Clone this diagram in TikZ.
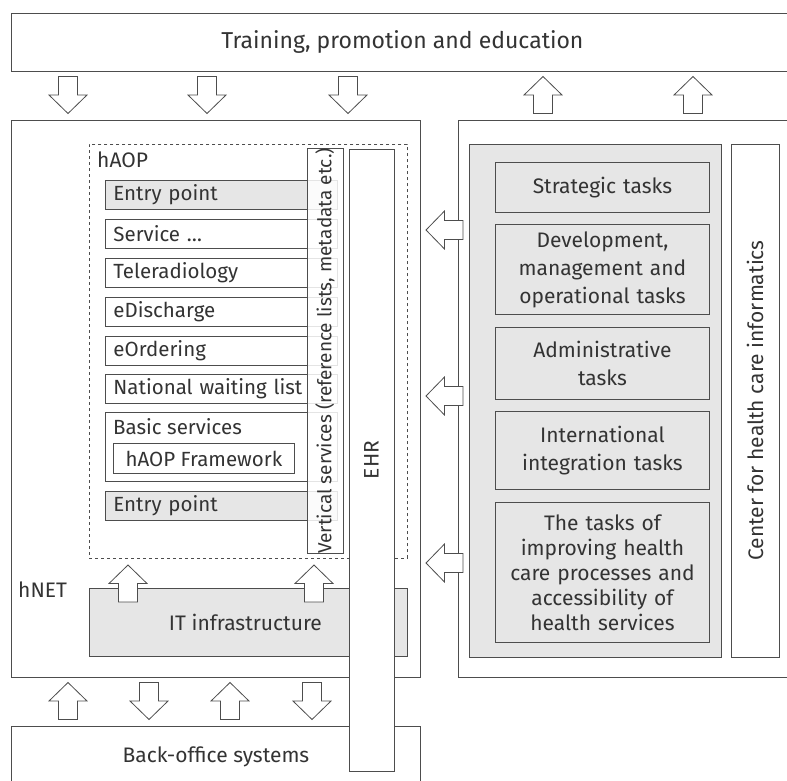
\documentclass[tikz,border=0pt]{standalone}
\usepackage{fontspec}
\setmainfont{Fira Sans}
\usetikzlibrary{positioning}

\definecolor{linec}{HTML}{4D4D4D}
\definecolor{txt}{HTML}{333333}
\definecolor{grayf}{HTML}{E6E6E6}

\newcommand\titlefont{\fontsize{23}{27}\selectfont}
\newcommand\itemfont{\fontsize{20.5}{25}\selectfont}
\newcommand\lblfont{\fontsize{21}{25}\selectfont}
\newcommand\vertfont{\fontsize{19}{22}\selectfont}

% block arrow: x, y, direction
\newcommand\blockarr[3]{%
  \draw[barr,shift={(#1,#2)},rotate=#3] (-18.5,-9.5) -- (0,-9.5) -- (0,-19) -- (18.5,0)
    -- (0,19) -- (0,9.5) -- (-18.5,9.5) -- cycle;}

\tikzset{
  frame/.style={draw=linec, line width=0.9pt, anchor=north west, inner sep=0pt, text=txt},
  item/.style={frame, fill=white, minimum width=232, minimum height=29, text width=216,
    inner xsep=8, align=left, font=\itemfont},
  task/.style={frame, fill=grayf, minimum width=214, text width=208, inner xsep=3,
    align=center, font=\lblfont},
  barr/.style={draw=linec, line width=0.8pt, fill=white},
  lbl/.style={anchor=west, inner sep=0pt, text=txt, font=\lblfont}
}

\begin{document}
\begin{tikzpicture}[x=1pt,y=-1pt]
\path[clip] (0,0) rectangle (787,780);

% top
\node[frame, minimum width=790, minimum height=58, font=\titlefont] (train) at (11,13)
  {\hspace*{-8pt}Training, promotion and education};
\blockarr{68}{95}{-90}
\blockarr{207}{95}{-90}
\blockarr{348}{95}{-90}
\blockarr{543}{95}{90}
\blockarr{693}{95}{90}

% big frames
\node[frame, minimum width=409, minimum height=557] (hnet) at (11,120) {};
\node[frame, minimum width=340, minimum height=557] (cent) at (458,120) {};
\node[frame, minimum width=409, minimum height=60, font=\lblfont] (back) at (11,726) {Back-office systems};
\blockarr{68}{701}{90}
\blockarr{149}{701}{-90}
\blockarr{230}{701}{90}
\blockarr{312}{701}{-90}

% hAOP
\node[frame, dashed, minimum width=318, minimum height=414] (haop) at (89,144) {};
\node[lbl] (haoplbl) at (97,160) {hAOP};
\node[item, fill=grayf] (entryA) at (105,180) {Entry point};
\node[item] (serv) at (105,219) {Service \dots};
\node[item] (telerad) at (105,258) {Teleradiology};
\node[item] (edisch) at (105,297) {eDischarge};
\node[item] (eorder) at (105,336) {eOrdering};
\node[item] (waitl) at (105,374) {National waiting list};
\node[frame, fill=white, minimum width=232, minimum height=69] (basic) at (105,412) {};
\node[lbl, font=\itemfont] (basiclbl) at (113,427) {Basic services};
\node[frame, minimum width=181, minimum height=30, font=\itemfont] (frmwk) at (113,443) {hAOP Framework};
\node[item, fill=grayf] (entryB) at (105,491) {Entry point};
\node[frame, fill=white, fill opacity=0.85, text opacity=1, rotate=90, anchor=center,
  minimum width=404, minimum height=36, font=\vertfont] (vert) at (325,351)
  {Vertical services (reference lists, metadata etc.)};

% hNET
\node[lbl] (hnetlbl) at (18,590) {hNET};
\node[frame, fill=grayf, minimum width=318, minimum height=68, font=\lblfont] (infra) at (89,588)
  {\hspace*{-6pt}IT infrastructure};
\blockarr{128}{583.5}{90}
\blockarr{314}{583.5}{90}
\node[frame, fill=white, rotate=90, anchor=center, minimum width=622, minimum height=45,
  font=\lblfont] (ehr) at (371.5,460) {EHR};

% center for health care informatics
\node[frame, fill=grayf, minimum width=252, minimum height=513] (tasks) at (469,144) {};
\node[task, minimum height=50] (strat) at (495,162) {Strategic tasks};
\node[task, minimum height=90, font=\fontsize{21}{28}\selectfont] (devel) at (495,224)
  {Development,\\ management and\\ operational tasks};
\node[task, minimum height=72, font=\fontsize{21}{28}\selectfont] (admin) at (495,327) {Administrative\\ tasks};
\node[task, minimum height=78, font=\fontsize{21}{28}\selectfont] (intl) at (495,411) {International\\ integration tasks};
\node[task, minimum height=140] (improve) at (495,502)
  {The tasks of\\ improving health\\ care processes and\\ accessibility of\\ health services};
\node[frame, rotate=90, anchor=center, minimum width=513, minimum height=48,
  font=\lblfont] (chi) at (755,400.5) {Center for health care informatics};
\blockarr{444.5}{230}{180}
\blockarr{444.5}{396}{180}
\blockarr{444.5}{563}{180}
\end{tikzpicture}
\end{document}
